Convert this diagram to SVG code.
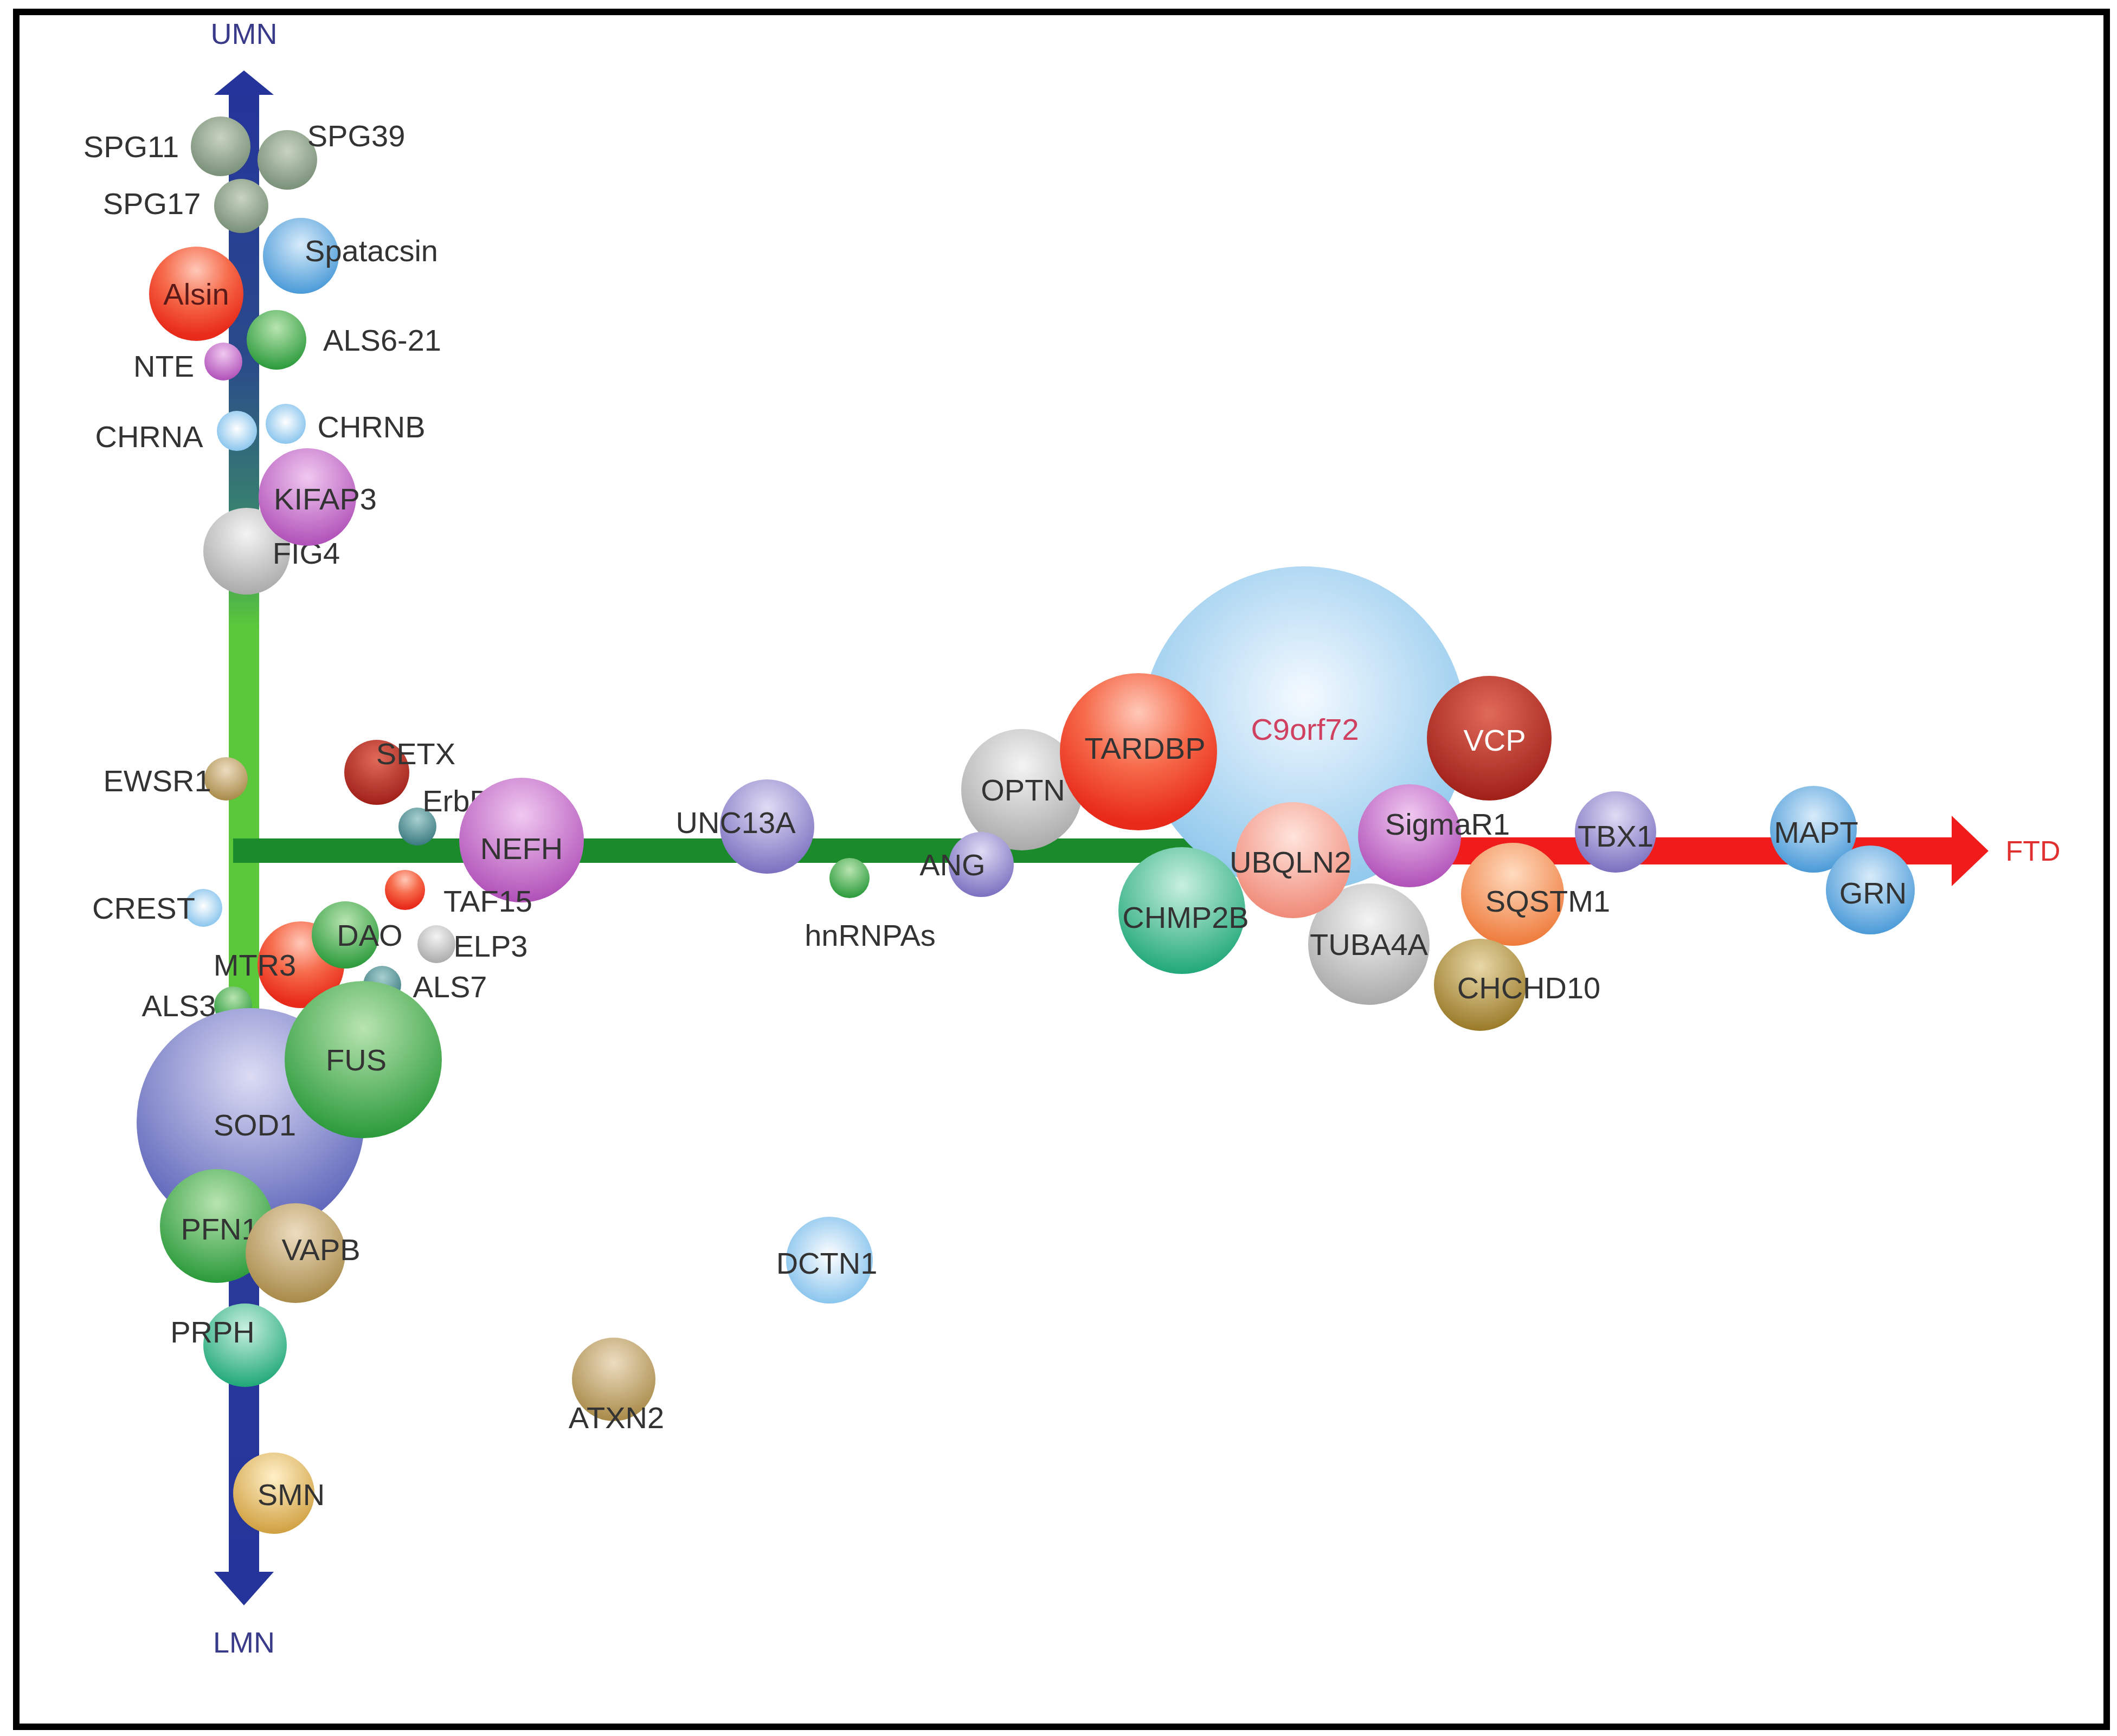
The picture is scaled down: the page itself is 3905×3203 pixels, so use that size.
<svg xmlns="http://www.w3.org/2000/svg" width="3905" height="3203" viewBox="0 0 3905 3203">
<defs>
<style>
text{font-family:"Liberation Sans",Arial,sans-serif;font-size:56px;fill:#333;text-anchor:middle;dominant-baseline:central}
.ax{fill:#3a3a8a;font-size:54px}
</style>
<linearGradient id="vax" x1="0" y1="0" x2="0" y2="1">
<stop offset="0" stop-color="#24349a"/><stop offset="0.18" stop-color="#2a4a8a"/><stop offset="0.3" stop-color="#3a8a6a"/><stop offset="0.36" stop-color="#5ac83a"/><stop offset="0.7" stop-color="#5ac83a"/><stop offset="0.78" stop-color="#2a3a9a"/><stop offset="1" stop-color="#24349a"/>
</linearGradient>
<radialGradient id="gg" cx="0.5" cy="0.35" r="0.65"><stop offset="0" stop-color="#c8d4c0"/><stop offset="1" stop-color="#7a9078"/></radialGradient>
<radialGradient id="bl" cx="0.5" cy="0.35" r="0.65"><stop offset="0" stop-color="#d8ecfa"/><stop offset="1" stop-color="#4a9ad8"/></radialGradient>
<radialGradient id="lb" cx="0.5" cy="0.45" r="0.6"><stop offset="0" stop-color="#ffffff"/><stop offset="1" stop-color="#80c0ec"/></radialGradient>
<radialGradient id="c9" cx="0.5" cy="0.4" r="0.6"><stop offset="0" stop-color="#f4faff"/><stop offset="0.6" stop-color="#b8dcf4"/><stop offset="1" stop-color="#90c8ec"/></radialGradient>
<radialGradient id="rd" cx="0.5" cy="0.25" r="0.7"><stop offset="0" stop-color="#ffc8b8"/><stop offset="0.5" stop-color="#f66a4a"/><stop offset="1" stop-color="#e82a1a"/></radialGradient>
<radialGradient id="dr" cx="0.5" cy="0.3" r="0.7"><stop offset="0" stop-color="#e06a5a"/><stop offset="1" stop-color="#a02018"/></radialGradient>
<radialGradient id="gr" cx="0.5" cy="0.3" r="0.7"><stop offset="0" stop-color="#b8e4b0"/><stop offset="1" stop-color="#2a9a3a"/></radialGradient>
<radialGradient id="pu" cx="0.5" cy="0.3" r="0.7"><stop offset="0" stop-color="#f0c8f0"/><stop offset="1" stop-color="#b050b8"/></radialGradient>
<radialGradient id="vi" cx="0.5" cy="0.3" r="0.7"><stop offset="0" stop-color="#e0dcf4"/><stop offset="1" stop-color="#7a70c0"/></radialGradient>
<radialGradient id="gy" cx="0.5" cy="0.3" r="0.7"><stop offset="0" stop-color="#f4f4f4"/><stop offset="1" stop-color="#aaaaaa"/></radialGradient>
<radialGradient id="tn" cx="0.5" cy="0.3" r="0.7"><stop offset="0" stop-color="#ecdcc0"/><stop offset="1" stop-color="#a88a48"/></radialGradient>
<radialGradient id="tl" cx="0.5" cy="0.3" r="0.7"><stop offset="0" stop-color="#a8d0d0"/><stop offset="1" stop-color="#3a7a80"/></radialGradient>
<radialGradient id="sb" cx="0.5" cy="0.3" r="0.7"><stop offset="0" stop-color="#dcdcf4"/><stop offset="1" stop-color="#5a62b8"/></radialGradient>
<radialGradient id="ye" cx="0.5" cy="0.3" r="0.7"><stop offset="0" stop-color="#fff0c8"/><stop offset="1" stop-color="#d0a040"/></radialGradient>
<radialGradient id="sa" cx="0.5" cy="0.3" r="0.7"><stop offset="0" stop-color="#ffe4dc"/><stop offset="1" stop-color="#f08a78"/></radialGradient>
<radialGradient id="sg" cx="0.5" cy="0.3" r="0.7"><stop offset="0" stop-color="#c8f0e0"/><stop offset="1" stop-color="#20a878"/></radialGradient>
<radialGradient id="or" cx="0.5" cy="0.3" r="0.7"><stop offset="0" stop-color="#ffdcc0"/><stop offset="1" stop-color="#ee7a3a"/></radialGradient>
<radialGradient id="ol" cx="0.5" cy="0.3" r="0.7"><stop offset="0" stop-color="#e8d8a8"/><stop offset="1" stop-color="#9a7a28"/></radialGradient>
</defs>
<rect width="3905" height="3203" fill="#fff"/>
<rect x="30" y="22" width="3856" height="3164" fill="none" stroke="#000" stroke-width="12"/>
<g id="connectors">
<rect x="422" y="170" width="56" height="2740" fill="url(#vax)"/>
<polygon points="450,130 505,175 395,175" fill="#24349a"/>
<polygon points="450,2962 505,2900 395,2900" fill="#24349a"/>
<rect x="430" y="1547" width="1830" height="45" fill="#1a8a2a"/>
<rect x="2250" y="1545" width="1360" height="50" fill="#f01c1c"/>
<polygon points="3600,1505 3668,1570 3600,1635" fill="#f01c1c"/>
<text class="ax" x="450" y="62">UMN</text>
<text class="ax" x="450" y="3030">LMN</text>
<text x="3750" y="1570" style="fill:#e03030;font-size:52px">FTD</text>
</g>
<g id="SPG11"><circle cx="407" cy="270" r="55" fill="url(#gg)"/><text x="242" y="270">SPG11</text></g>
<g id="SPG39"><circle cx="530" cy="295" r="55" fill="url(#gg)"/><text x="657" y="250">SPG39</text></g>
<g id="SPG17"><circle cx="445" cy="380" r="50" fill="url(#gg)"/><text x="280" y="375">SPG17</text></g>
<g id="Spatacsin"><circle cx="555" cy="472" r="70" fill="url(#bl)"/><text x="685" y="462">Spatacsin</text></g>
<g id="Alsin"><circle cx="362" cy="542" r="87" fill="url(#rd)"/><text x="362" y="542" style="fill:#5a1a1a">Alsin</text></g>
<g id="ALS6-21"><circle cx="510" cy="627" r="55" fill="url(#gr)"/><text x="705" y="627">ALS6-21</text></g>
<g id="NTE"><circle cx="412" cy="667" r="35" fill="url(#pu)"/><text x="302" y="675">NTE</text></g>
<g id="CHRNA"><circle cx="437" cy="795" r="37" fill="url(#lb)"/><text x="275" y="805">CHRNA</text></g>
<g id="CHRNB"><circle cx="527" cy="782" r="37" fill="url(#lb)"/><text x="685" y="787">CHRNB</text></g>
<g id="FIG4"><circle cx="455" cy="1017" r="80" fill="url(#gy)"/><text x="565" y="1020">FIG4</text></g>
<g id="KIFAP3"><circle cx="567" cy="917" r="90" fill="url(#pu)"/><text x="600" y="920">KIFAP3</text></g>
<g id="EWSR1"><circle cx="417" cy="1437" r="40" fill="url(#tn)"/><text x="290" y="1440">EWSR1</text></g>
<g id="SETX"><circle cx="695" cy="1425" r="60" fill="url(#dr)"/><text x="767" y="1390">SETX</text></g>
<g id="ErbB4"><circle cx="770" cy="1525" r="35" fill="url(#tl)"/><text x="857" y="1477">ErbB4</text></g>
<g id="NEFH"><circle cx="962" cy="1550" r="115" fill="url(#pu)"/><text x="962" y="1565">NEFH</text></g>
<g id="TAF15"><circle cx="747" cy="1642" r="37" fill="url(#rd)"/><text x="900" y="1662">TAF15</text></g>
<g id="CREST"><circle cx="375" cy="1675" r="35" fill="url(#lb)"/><text x="265" y="1675">CREST</text></g>
<g id="MTR3"><circle cx="555" cy="1780" r="80" fill="url(#rd)"/><text x="470" y="1780">MTR3</text></g>
<g id="DAO"><circle cx="637" cy="1725" r="62" fill="url(#gr)"/><text x="682" y="1725">DAO</text></g>
<g id="ELP3"><circle cx="805" cy="1742" r="35" fill="url(#gy)"/><text x="905" y="1745">ELP3</text></g>
<g id="ALS7"><circle cx="705" cy="1817" r="35" fill="url(#tl)"/><text x="830" y="1820">ALS7</text></g>
<g id="ALS3"><circle cx="430" cy="1855" r="35" fill="url(#gr)"/><text x="330" y="1855">ALS3</text></g>
<g id="SOD1"><circle cx="462" cy="2070" r="210" fill="url(#sb)"/><text x="470" y="2075">SOD1</text></g>
<g id="FUS"><circle cx="670" cy="1955" r="145" fill="url(#gr)"/><text x="657" y="1955">FUS</text></g>
<g id="PFN1"><circle cx="400" cy="2262" r="105" fill="url(#gr)"/><text x="405" y="2267">PFN1</text></g>
<g id="VAPB"><circle cx="545" cy="2312" r="92" fill="url(#tn)"/><text x="592" y="2305">VAPB</text></g>
<g id="PRPH"><circle cx="452" cy="2482" r="77" fill="url(#sg)"/><text x="392" y="2457">PRPH</text></g>
<g id="SMN"><circle cx="505" cy="2755" r="75" fill="url(#ye)"/><text x="537" y="2757">SMN</text></g>
<g id="UNC13A"><circle cx="1415" cy="1525" r="87" fill="url(#vi)"/><text x="1357" y="1517">UNC13A</text></g>
<g id="hnRNPAs"><circle cx="1567" cy="1620" r="37" fill="url(#gr)"/><text x="1605" y="1725">hnRNPAs</text></g>
<g id="OPTN"><circle cx="1885" cy="1457" r="112" fill="url(#gy)"/><text x="1887" y="1457">OPTN</text></g>
<g id="ANG"><circle cx="1810" cy="1595" r="60" fill="url(#vi)"/><text x="1757" y="1595">ANG</text></g>
<g id="DCTN1"><circle cx="1530" cy="2325" r="80" fill="url(#lb)"/><text x="1525" y="2330">DCTN1</text></g>
<g id="ATXN2"><circle cx="1132" cy="2545" r="77" fill="url(#tn)"/><text x="1137" y="2615">ATXN2</text></g>
<g id="C9orf72"><circle cx="2405" cy="1345" r="300" fill="url(#c9)"/><text x="2407" y="1345" style="fill:#d04060">C9orf72</text></g>
<g id="TARDBP"><circle cx="2100" cy="1387" r="145" fill="url(#rd)"/><text x="2112" y="1380">TARDBP</text></g>
<g id="VCP"><circle cx="2747" cy="1362" r="115" fill="url(#dr)"/><text x="2757" y="1365" style="fill:#fff">VCP</text></g>
<g id="CHMP2B"><circle cx="2180" cy="1680" r="117" fill="url(#sg)"/><text x="2187" y="1692">CHMP2B</text></g>
<g id="TUBA4A"><circle cx="2525" cy="1742" r="112" fill="url(#gy)"/><text x="2525" y="1742">TUBA4A</text></g>
<g id="UBQLN2"><circle cx="2385" cy="1587" r="107" fill="url(#sa)"/><text x="2380" y="1590">UBQLN2</text></g>
<g id="SigmaR1"><circle cx="2600" cy="1542" r="95" fill="url(#pu)"/><text x="2670" y="1520">SigmaR1</text></g>
<g id="SQSTM1"><circle cx="2790" cy="1650" r="95" fill="url(#or)"/><text x="2855" y="1662">SQSTM1</text></g>
<g id="CHCHD10"><circle cx="2730" cy="1817" r="85" fill="url(#ol)"/><text x="2820" y="1822">CHCHD10</text></g>
<g id="TBX1"><circle cx="2980" cy="1535" r="75" fill="url(#vi)"/><text x="2980" y="1542">TBX1</text></g>
<g id="MAPT"><circle cx="3345" cy="1530" r="80" fill="url(#bl)"/><text x="3350" y="1535">MAPT</text></g>
<g id="GRN"><circle cx="3450" cy="1642" r="82" fill="url(#bl)"/><text x="3455" y="1647">GRN</text></g>
</svg>
